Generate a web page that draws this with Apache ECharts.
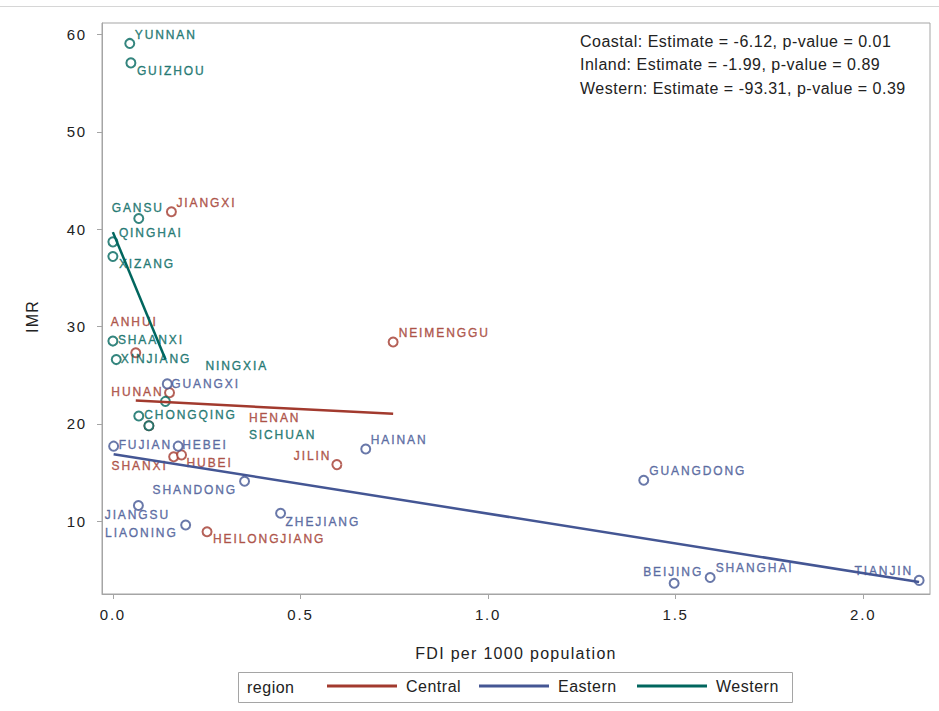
<!DOCTYPE html>
<html>
<head>
<meta charset="utf-8">
<script src="https://cdn.jsdelivr.net/npm/echarts@6/dist/echarts.min.js"></script>
<style>
  html, body { margin: 0; padding: 0; background: #fff; }
  #chart { width: 939px; height: 711px; }
  /* widen glyph spacing of the rendered SVG text */
  #chart svg text { letter-spacing: 0.5px; }
  #chart svg text[style*="12px"] { letter-spacing: 1.9px; }
  #chart svg text[style*="15px"] { letter-spacing: 1.8px; }
  #chart svg text[style*="Arial"] { letter-spacing: 1.3px; }
</style>
</head>
<body>
<div id="chart"></div>
<script>
// ---- data: FDI per 1000 population vs infant mortality rate, by province ----
const centralNames = ['ANHUI', 'JIANGXI', 'HUNAN', 'HENAN', 'SHANXI', 'HUBEI', 'NEIMENGGU', 'JILIN', 'HEILONGJIANG'];
const centralFDI   = [0.061, 0.156, 0.151, 0.096, 0.162, 0.183, 0.747, 0.597, 0.251];
const centralIMR   = [27.3, 41.8, 23.2, 19.8, 16.6, 16.8, 28.4, 15.8, 8.9];

const easternNames = ['FUJIAN', 'HEBEI', 'GUANGXI', 'JIANGSU', 'LIAONING', 'SHANDONG', 'ZHEJIANG', 'HAINAN', 'GUANGDONG', 'BEIJING', 'SHANGHAI', 'TIANJIN'];
const easternFDI   = [0.002, 0.174, 0.145, 0.068, 0.194, 0.351, 0.447, 0.674, 1.415, 1.496, 1.592, 2.149];
const easternIMR   = [17.7, 17.7, 24.1, 11.6, 9.6, 14.1, 10.8, 17.4, 14.2, 3.6, 4.2, 3.9];

const westernNames = ['YUNNAN', 'GUIZHOU', 'GANSU', 'QINGHAI', 'XIZANG', 'SHAANXI', 'XINJIANG', 'CHONGQING', 'NINGXIA', 'SICHUAN'];
const westernFDI   = [0.045, 0.048, 0.069, 0.000, 0.000, 0.000, 0.009, 0.069, 0.140, 0.096];
const westernIMR   = [59.1, 57.1, 41.1, 38.7, 37.2, 28.5, 26.6, 20.8, 22.3, 19.8];

// regression fits per region (slope = reported estimate)
const fitRegions   = ['Central', 'Eastern', 'Western'];
const fitSlope     = [-1.99, -6.12, -93.31];
const fitIntercept = [22.51, 16.88, 39.7];

// model summary lines
const estimateLines = [
  'Coastal: Estimate = -6.12, p-value = 0.01',
  'Inland: Estimate = -1.99, p-value = 0.89',
  'Western: Estimate = -93.31, p-value = 0.39'
];

// axis ticks
const xTicks = [0, 0.5, 1, 1.5, 2];
const yTicks = [10, 20, 30, 40, 50, 60];

// ---- presentation ----
const COLORS = { Central: '#A23A2E', Eastern: '#445694', Western: '#01665E' };
const FONT = '"Liberation Sans", sans-serif';
const TITLE_FONT = 'Arial, "Liberation Sans", sans-serif';
const SYMBOL = 9;
const LEGEND_LEFT = [327, 479, 637];

// where each province label sits relative to its marker: [dx, dy, align]
const labelPlacement = {
  YUNNAN: [6, -7, 'left'], GUIZHOU: [7, 9, 'left'], GANSU: [0, -10, 'center'],
  JIANGXI: [6, -8, 'left'], QINGHAI: [7, -8, 'left'], XIZANG: [7, 8.5, 'left'],
  ANHUI: [-0.5, -30, 'center'], SHAANXI: [6, 0, 'left'], XINJIANG: [5.5, 0, 'left'],
  NINGXIA: [41, -34, 'left'], GUANGXI: [5, 1, 'left'], HUNAN: [-5, 0, 'right'],
  CHONGQING: [6.5, 0, 'left'], SICHUAN: [101, 10, 'left'], HENAN: [101, -7, 'left'],
  FUJIAN: [6, 0, 'left'], HEBEI: [5, 0, 'left'], SHANXI: [-5, 10, 'right'],
  HUBEI: [6, 9, 'left'], SHANDONG: [-6.5, 9.5, 'right'], JIANGSU: [0, 11, 'center'],
  LIAONING: [-7, 9.5, 'right'], HEILONGJIANG: [7, 8.5, 'left'], ZHEJIANG: [6, 10, 'left'],
  NEIMENGGU: [6.5, -8.5, 'left'], HAINAN: [6, -8.5, 'left'], JILIN: [-4.5, -8, 'right'],
  GUANGDONG: [6.5, -8.5, 'left'], BEIJING: [0, -10, 'center'], SHANGHAI: [6.5, -8.5, 'left'],
  TIANJIN: [-5, -8, 'right']
};

function pointData(names, xs, ys, color) {
  return names.map((n, i) => {
    const p = labelPlacement[n] || [6, -8, 'left'];
    return {
      name: n,
      value: [xs[i], ys[i]],
      label: {
        show: true,
        formatter: '{b}',
        position: [SYMBOL / 2 + p[0], SYMBOL / 2 + p[1]],
        align: p[2],
        verticalAlign: 'middle',
        color: color,
        textBorderColor: color,
        textBorderWidth: 0.4,
        fontSize: 12,
        fontFamily: FONT
      }
    };
  });
}

function scatterSeries(region, names, xs, ys) {
  return {
    type: 'scatter',
    name: region + ' provinces',
    symbol: 'emptyCircle',
    symbolSize: SYMBOL,
    itemStyle: { color: COLORS[region], borderColor: COLORS[region], borderWidth: 1.3 },
    emphasis: { disabled: true },
    data: pointData(names, xs, ys, COLORS[region]),
    z: 2
  };
}

function fitSeries(idx, xs) {
  const region = fitRegions[idx];
  const lo = Math.min(...xs), hi = Math.max(...xs);
  const f = x => fitIntercept[idx] + fitSlope[idx] * x;
  return {
    type: 'line',
    name: region,
    showSymbol: false,
    symbol: 'none',
    color: COLORS[region],
    lineStyle: { color: COLORS[region], width: 2.5 },
    emphasis: { disabled: true },
    data: [[lo, f(lo)], [hi, f(hi)]],
    z: 3
  };
}

const chart = echarts.init(document.getElementById('chart'), null, { renderer: 'svg' });

const option = {
  animation: false,
  backgroundColor: '#fff',
  textStyle: { fontFamily: FONT },
  grid: {
    left: 102, right: 9, top: 23, bottom: 117,
    show: true, borderColor: '#A5A5A5', borderWidth: 1, backgroundColor: 'transparent'
  },
  xAxis: {
    type: 'value',
    min: -0.029, max: 2.178,
    name: 'FDI per 1000 population',
    nameLocation: 'middle',
    nameGap: 51,
    nameTextStyle: { fontSize: 16, color: '#222', fontFamily: TITLE_FONT },
    axisLine: { show: true, onZero: false, lineStyle: { color: '#A5A5A5' } },
    splitLine: { show: false },
    axisTick: { show: true, inside: false, length: 5, lineStyle: { color: '#A5A5A5' }, customValues: xTicks },
    axisLabel: {
      customValues: xTicks, fontSize: 15, color: '#222', margin: 13, fontFamily: FONT,
      formatter: v => v.toFixed(1)
    }
  },
  yAxis: {
    type: 'value',
    min: 2.5, max: 61.2,
    name: 'IMR',
    nameLocation: 'middle',
    nameGap: 62,
    nameRotate: 90,
    nameTextStyle: { fontSize: 16, color: '#222', fontFamily: TITLE_FONT, padding: [0, 16, 0, 0] },
    axisLine: { show: true, onZero: false, lineStyle: { color: '#A5A5A5' } },
    splitLine: { show: false },
    axisTick: { show: true, inside: false, length: 5, lineStyle: { color: '#A5A5A5' }, customValues: yTicks },
    axisLabel: { customValues: yTicks, fontSize: 15, color: '#222', margin: 15, fontFamily: FONT }
  },
  legend: fitRegions.map((r, i) => ({
    data: [r],
    left: LEGEND_LEFT[i], top: 678, padding: 0,
    icon: 'rect', itemWidth: 70, itemHeight: 3,
    selectedMode: false,
    textStyle: { fontSize: 16, color: '#222', fontFamily: FONT, padding: [0, 0, 0, 4] }
  })),
  graphic: [
    {
      type: 'line', silent: true,
      shape: { x1: 0, y1: 6.5, x2: 939, y2: 6.5 },
      style: { stroke: '#D6D6D6', lineWidth: 1 }
    },
    {
      type: 'rect', silent: true,
      shape: { x: 238.5, y: 672.5, width: 554, height: 30 },
      style: { fill: 'none', stroke: '#A5A5A5', lineWidth: 1 }
    },
    {
      type: 'text', silent: true,
      style: { text: 'region', x: 247, y: 687, fill: '#222', fontSize: 16, fontFamily: FONT, verticalAlign: 'middle' }
    },
    ...estimateLines.map((t, i) => ({
      type: 'text', silent: true,
      style: { text: t, x: 580, y: 41 + i * 23.5, fill: '#222', fontSize: 16, fontFamily: FONT, verticalAlign: 'middle' }
    }))
  ],
  series: [
    scatterSeries('Central', centralNames, centralFDI, centralIMR),
    scatterSeries('Eastern', easternNames, easternFDI, easternIMR),
    scatterSeries('Western', westernNames, westernFDI, westernIMR),
    fitSeries(0, centralFDI),
    fitSeries(1, easternFDI),
    fitSeries(2, westernFDI)
  ]
};

chart.setOption(option);
</script>
</body>
</html>
